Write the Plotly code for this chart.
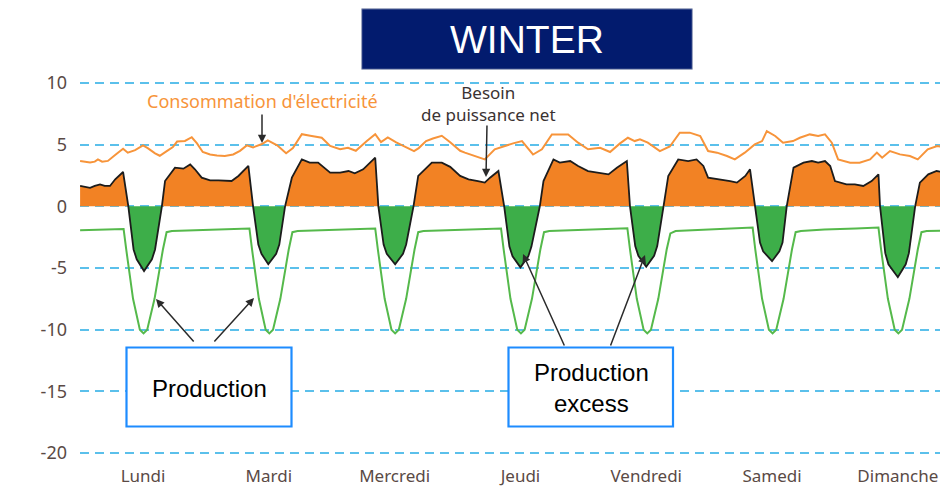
import plotly.graph_objects as go

# ---------------- data (hours from Monday 00:00, GW) ----------------
days = ["Lundi", "Mardi", "Mercredi", "Jeudi", "Vendredi", "Samedi", "Dimanche"]
day_ticks = [12, 36, 60, 84, 108, 132, 156]
y_ticks = [-20, -15, -10, -5, 0, 5, 10]
y_labels = ["-20", "-15", "-10", "-5", "0", "5", "10"]

cons_h = [0, 1.9, 2.8, 3.4, 4.2, 5.3, 6.8, 8.2, 9.1, 10.5, 12.0, 12.9, 14.3, 15.2, 16.6, 17.7,
          18.5, 20.0, 21.3, 22.3, 23.4, 24.8, 26.1, 27.6, 29.2, 30.5, 31.8, 33.0, 34.7, 35.8,
          37.6, 39.3, 40.6, 42.3, 43.9, 45.0, 46.1, 47.7, 49.6, 51.1, 52.6, 54.7, 56.3, 57.4,
          58.7, 60.3, 61.8, 63.7, 64.6, 66.0, 67.3, 69.0, 70.6, 72.5, 73.4, 75.3, 77.2, 79.1,
          81.0, 82.6, 84.3, 86.4, 88.1, 90.0, 93.1, 95.0, 96.9, 99.2, 101.1, 103.0, 104.5,
          105.8, 106.8, 108.3, 110.6, 112.5, 114.4, 116.3, 118.3, 119.8, 121.5, 123.4, 124.9,
          126.8, 128.7, 130.1, 131.0, 132.6, 134.1, 136.0, 137.3, 139.2, 140.8, 142.1, 143.4,
          144.6, 146.9, 148.7, 150.7, 152.0, 153.0, 154.5, 156.4, 158.3, 159.8, 161.7, 163.5,
          165.6, 168.0]
cons_v = [3.67, 3.55, 3.62, 3.8, 3.62, 3.68, 4.2, 4.67, 4.35, 4.55, 4.94, 4.72, 4.3, 4.1, 4.5, 4.8,
          5.25, 5.3, 5.6, 5.1, 4.4, 4.2, 4.12, 4.08, 4.2, 4.5, 4.94, 4.78, 5.05, 5.35,
          4.95, 4.3, 4.72, 5.85, 5.72, 5.62, 5.56, 4.89, 4.62, 4.75, 4.5, 5.29, 5.85, 5.2,
          5.58, 5.18, 4.85, 4.48, 4.72, 5.29, 5.5, 5.72, 5.2, 4.5, 4.35, 4.08, 3.8, 4.62,
          4.89, 5.1, 5.29, 4.2, 4.62, 5.83, 5.83, 5.16, 4.62, 4.75, 4.4, 5.1, 5.56,
          5.29, 5.43, 5.16, 4.48, 4.85, 5.97, 5.97, 5.7, 4.48, 4.35, 4.08, 3.8,
          4.35, 5.02, 5.29, 6.1, 5.7, 5.16, 5.29, 5.56, 5.83, 5.7, 5.83, 5.16,
          3.8, 3.54, 3.54, 3.8, 4.35, 3.94, 4.48, 4.21, 4.08, 3.8, 4.62, 4.89,
          4.75, 4.75]

net_h = [0, 1.9, 2.8, 3.8, 4.7, 5.7, 6.7, 7.3, 8.2, 9.2, 10.2, 10.8, 12.2, 13.7, 14.3, 15.6,
         16.2, 18.1, 19.7, 21.0, 21.9, 23.2, 24.8, 26.4, 28.0, 28.9, 30.2, 32.1,
         33.0, 34.0, 34.6, 35.9, 37.4, 38.0, 39.1,
         40.4, 42.3, 43.8, 45.4, 47.7, 49.6, 51.2, 52.4, 54.0, 56.3,
         56.9, 57.9, 58.5, 60.1, 61.6, 62.2, 63.6,
         64.5, 67.1, 69.0, 70.6, 72.5, 74.1, 75.9, 77.2, 78.2, 79.8,
         80.9, 81.9, 82.5, 84.0, 85.5, 86.1, 87.7,
         88.4, 90.3, 91.5, 93.5, 95.0, 96.9, 98.9, 100.8, 102.4, 104.3,
         104.9, 105.9, 106.5, 108.0, 109.5, 110.1, 111.3,
         112.2, 114.1, 116.0, 117.6, 118.9, 119.8, 122.1, 124.0, 125.3, 126.9, 127.8,
         128.7, 129.7, 130.3, 132.0, 133.4, 134.0, 134.8,
         136.1, 138.0, 139.6, 140.8, 142.1, 143.1, 144.0, 146.2, 147.8, 149.4, 151.0, 152.3,
         152.6, 153.6, 154.2, 156.0, 157.5, 158.1, 159.3,
         160.2, 161.8, 163.4, 165.3, 168.0]
net_v = [1.65, 1.5, 1.65, 1.78, 1.65, 1.65, 2.19, 2.46, 2.78, 0, -3.5, -4.3, -5.25, -4.3, -3.5, 0,
         2.05, 3.13, 3.05, 3.4, 3.0, 2.32, 2.1, 2.1, 2.1, 2.05, 2.46, 3.27,
         0, -3.1, -3.85, -4.7, -3.85, -3.1, 0,
         2.32, 3.8, 3.54, 3.54, 2.73, 2.73, 2.86, 2.67, 3.0, 3.94,
         0, -3.1, -3.85, -4.7, -3.85, -3.1, 0,
         2.46, 3.54, 3.54, 3.2, 2.46, 2.19, 2.05, 1.92, 2.32, 2.86,
         0, -3.27, -4.06, -4.95, -4.06, -3.27, 0,
         2.05, 3.8, 3.54, 3.67, 3.27, 2.86, 2.73, 2.59, 3.13, 3.67,
         0, -3.23, -4.02, -4.9, -4.02, -3.23, 0,
         2.46, 3.8, 3.67, 3.8, 3.27, 2.32, 2.19, 2.05, 1.92, 2.46, 3.0,
         0, -2.94, -3.65, -4.45, -3.65, -2.94, 0,
         3.13, 3.54, 3.67, 3.54, 3.67, 3.27, 2.05, 1.78, 1.78, 1.65, 2.05, 2.59,
         0, -3.8, -4.7, -5.75, -4.7, -3.8, 0,
         1.92, 2.59, 2.86, 2.73, 2.7]

prod_h = [0, 4.0, 8.3, 8.8, 10.1, 11.4, 12.1, 12.8, 14.2, 15.8, 16.5, 17.5, 22.0,
          28.0, 32.3, 32.8, 34.1, 35.4, 36.1, 36.8, 38.2, 39.8, 40.5, 41.5, 46.0,
          52.0, 56.3, 56.8, 58.1, 59.4, 60.1, 60.8, 62.2, 63.8, 64.5, 65.5, 70.0,
          76.0, 80.3, 80.8, 82.1, 83.4, 84.1, 84.8, 86.2, 87.8, 88.5, 89.5, 94.0,
          100.0, 104.4, 104.9, 106.2, 107.5, 108.2, 108.9, 110.3, 111.9, 112.6, 113.6, 118.0,
          124.0, 128.3, 128.8, 130.1, 131.4, 132.1, 132.8, 134.2, 135.8, 136.5, 137.5, 142.0,
          148.0, 152.3, 152.8, 154.1, 155.4, 156.1, 156.8, 158.2, 159.8, 160.5, 161.5, 166.0, 168.0]
prod_v = [-1.95, -1.9, -1.85, -3.5, -7.5, -10.0, -10.3, -10.0, -7.5, -3.5, -2.1, -2.0, -1.93,
          -1.86, -1.8, -3.5, -7.5, -10.0, -10.3, -10.0, -7.5, -3.5, -2.1, -2.0, -1.93,
          -1.86, -1.8, -3.5, -7.5, -10.0, -10.3, -10.0, -7.5, -3.5, -2.1, -2.0, -1.93,
          -1.86, -1.8, -3.5, -7.5, -10.0, -10.3, -10.0, -7.5, -3.5, -2.1, -2.0, -1.93,
          -1.86, -1.78, -3.5, -7.5, -10.0, -10.3, -10.0, -7.5, -3.5, -2.2, -2.0, -1.9,
          -1.8, -1.72, -3.5, -7.5, -10.0, -10.3, -10.0, -7.5, -3.5, -2.1, -2.0, -1.88,
          -1.8, -1.72, -3.5, -7.5, -10.0, -10.3, -10.0, -7.5, -3.5, -2.1, -2.0, -1.98, -1.98]

assert len(cons_h) == len(cons_v)
assert len(net_h) == len(net_v)
assert len(prod_h) == len(prod_v)

# ---------------- styles ----------------
ORANGE_FILL = "#F28224"
GREEN_FILL = "#3DAE49"
ORANGE_LINE = "#F7943A"
GREEN_LINE = "#55B94B"
GRID = "#5BC0EB"
TICK = "#5a4a45"
FONT = "Noto Sans"

# The page body has an 8px margin, so the figure is drawn 8px right/down of the window origin.
OFF = 8
W, H = 948 - OFF, 489 - OFF
PLOT_L, PLOT_R, PLOT_T, PLOT_B = 80, 948, 8, 464   # window pixels


# window-pixel helpers for annotation placement (5.242 px/h, 0 h at 80.1px; 12.333 px/GW, 0 GW at 206.3px)
def hx(px):
    return (px - 80.1) / 5.242


def vy(py):
    return (206.3 - py) / 12.333


net_pos = [max(v, 0) for v in net_v]
net_neg = [min(v, 0) for v in net_v]

fig = go.Figure()
fig.add_trace(go.Scatter(x=net_h, y=net_pos, mode="lines", line=dict(width=0, color=ORANGE_FILL),
                         fill="tozeroy", fillcolor=ORANGE_FILL, hoverinfo="skip"))
fig.add_trace(go.Scatter(x=net_h, y=net_neg, mode="lines", line=dict(width=0, color=GREEN_FILL),
                         fill="tozeroy", fillcolor=GREEN_FILL, hoverinfo="skip"))
fig.add_trace(go.Scatter(x=prod_h, y=prod_v, mode="lines", line=dict(color=GREEN_LINE, width=2),
                         name="Production"))
fig.add_trace(go.Scatter(x=cons_h, y=cons_v, mode="lines", line=dict(color=ORANGE_LINE, width=2),
                         name="Consommation d'électricité"))
fig.add_trace(go.Scatter(x=net_h, y=net_v, mode="lines", line=dict(color="#1c1c1c", width=1.8),
                         name="Besoin de puissance net"))

shapes = [
    dict(type="rect", xref="x", yref="y", x0=hx(361.7), x1=hx(692.3), y0=vy(69.3), y1=vy(8.8),
         fillcolor="#021B6E", line=dict(color="#9aa3bd", width=1), layer="above"),
    dict(type="rect", xref="x", yref="y", x0=hx(126.5), x1=hx(291.5), y0=vy(426.5), y1=vy(347.5),
         fillcolor="white", line=dict(color="#1E8CFF", width=2.2), layer="above"),
    dict(type="rect", xref="x", yref="y", x0=hx(508.5), x1=hx(673), y0=vy(426.5), y1=vy(347.5),
         fillcolor="white", line=dict(color="#1E8CFF", width=2.2), layer="above"),
]

ARROW = "#2b2b2b"


def arrow(hpx, hpy, tpx, tpy):
    return dict(x=hx(hpx), y=vy(hpy), xref="x", yref="y", ax=tpx - hpx, ay=tpy - hpy,
                text="", showarrow=True, arrowhead=2, arrowsize=1.1, arrowwidth=1.5,
                arrowcolor=ARROW)


annotations = [
    dict(x=hx(527), y=vy(39), xref="x", yref="y", text="WINTER", showarrow=False,
         font=dict(family="Liberation Sans, Arial", size=39, color="white")),
    dict(x=hx(262), y=vy(101), xref="x", yref="y", text="Consommation d'électricité",
         showarrow=False, font=dict(family=FONT, size=18, color=ORANGE_LINE)),
    dict(x=hx(488), y=vy(103), xref="x", yref="y", text="Besoin<br>de puissance net",
         showarrow=False, font=dict(family=FONT, size=17, color="#3a3232")),
    dict(x=hx(209), y=vy(388), xref="x", yref="y", text="Production", showarrow=False,
         font=dict(family="Liberation Sans, Arial", size=24, color="black")),
    dict(x=hx(591), y=vy(388), xref="x", yref="y", text="Production<br>excess", showarrow=False,
         font=dict(family="Liberation Sans, Arial", size=24, color="black")),
    dict(x=hx(25), y=vy(301), xref="x", yref="y", text="GW", showarrow=False, textangle=-90,
         font=dict(family=FONT, size=14, color=TICK)),
    arrow(262, 143, 262, 113),
    arrow(486, 177, 487, 124),
    arrow(156, 299, 195, 343),
    arrow(254, 298, 213, 343),
    arrow(523, 254, 565, 347),
    arrow(645, 255, 610, 347),
]

fig.update_layout(
    width=W, height=H,
    margin=dict(l=PLOT_L - OFF, r=948 - PLOT_R, t=PLOT_T - OFF, b=H - (PLOT_B - OFF)),
    paper_bgcolor="white", plot_bgcolor="white",
    showlegend=False,
    shapes=shapes, annotations=annotations,
    font=dict(family=FONT, color=TICK),
    xaxis=dict(range=[hx(PLOT_L), hx(PLOT_R)], tickvals=day_ticks, ticktext=days, showgrid=False,
               zeroline=False, showline=False, ticks="", automargin=False,
               tickfont=dict(family=FONT, size=17, color=TICK)),
    yaxis=dict(range=[vy(PLOT_B), vy(PLOT_T)], tickvals=y_ticks, ticktext=y_labels,
               showgrid=True, gridcolor=GRID,
               gridwidth=2, griddash="9px,6px", zeroline=False, showline=False, ticks="",
               automargin=False, ticklabelstandoff=12,
               tickfont=dict(family=FONT, size=18, color=TICK)),
)

fig.write_html("out.html")
